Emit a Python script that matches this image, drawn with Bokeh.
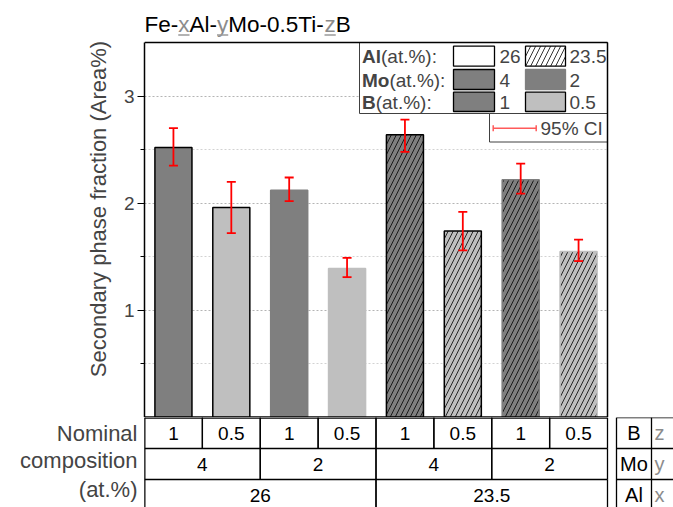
import numpy as np
from bokeh.plotting import figure
from bokeh.models import (Range1d, FixedTicker, ColumnDataSource, Whisker,
                          TeeHead, Label)
from bokeh.layouts import column
from bokeh.core.properties import value
from bokeh.embed import file_html
from bokeh.resources import INLINE

# ---------------- data ----------------
al_content = ["26", "26", "26", "26", "23.5", "23.5", "23.5", "23.5"]
mo_content = ["4", "4", "2", "2", "4", "4", "2", "2"]
b_content = ["1", "0.5", "1", "0.5", "1", "0.5", "1", "0.5"]
phase_fraction = [2.52, 1.96, 2.12, 1.39, 2.64, 1.74, 2.22, 1.55]
ci_lower = [2.35, 1.72, 2.02, 1.31, 2.48, 1.56, 2.09, 1.46]
ci_upper = [2.70, 2.20, 2.24, 1.49, 2.78, 1.92, 2.37, 1.66]
y_ticks = [1, 2, 3]
y_minor_ticks = [0.5, 1.5, 2.5]

title_parts = [("Fe-", False), ("x", True), ("Al-", False), ("y", True),
               ("Mo-0.5Ti-", False), ("z", True), ("B", False)]
y_label = "Secondary phase fraction (Area%)"
table_row_labels = ["Nominal", "composition", "(at.%)"]
side_labels = [("B", "z"), ("Mo", "y"), ("Al", "x")]
legend_rows = [("Al", "(at.%):", ["26", "23.5"]),
               ("Mo", "(at.%):", ["4", "2"]),
               ("B", "(at.%):", ["1", "0.5"])]
ci_label = "95% CI"

# ---------------- style / layout ----------------
W, H = 673, 507
FL, FR, FT, FB = 144, 607, 42, 417
N = len(phase_fraction)
Y_MAX = 3.5
ROW = 31.0
FONT = "Liberation Sans"
DARK, LIGHT, GRAYTXT = "#7f7f7f", "#bfbfbf", "#8c8c8c"

fill_map = {"1": DARK, "0.5": LIGHT}
hatch_map = {"26": " ", "23.5": "/"}

sx = (FR - FL) / N
sy = (FB - FT) / Y_MAX
X_END = (W - FL) / sx
Y_TOP = FB / sy


def ax(px):
    return (px - FL) / sx


def ay(py):
    return (FB - py) / sy


ARIAL = {'F': 611, 'e': 556, '-': 333, 'x': 500, 'A': 667, 'l': 222,
         'y': 500, 'M': 833, 'o': 556, '0': 556, '.': 278, '5': 556,
         'T': 611, 'i': 222, 'z': 500, 'B': 667}
ARIAL_B = {'A': 722, 'l': 278, 'M': 833, 'o': 611, 'B': 722}


def tw(s, size, table=ARIAL):
    return sum(table[c] for c in s) / 1000.0 * size


# ---------------- main figure ----------------
pA = figure(width=W, height=FB, x_range=Range1d(0, X_END), y_range=Range1d(0, Y_TOP),
            x_axis_location=None, tools="", toolbar_location=None,
            output_backend="svg", min_border_left=FL, min_border_right=0,
            min_border_top=0, min_border_bottom=0)
pA.outline_line_color = None
pA.xgrid.visible = False
tick = FixedTicker(ticks=y_ticks, minor_ticks=y_minor_ticks)
pA.yaxis.ticker = tick
pA.ygrid.ticker = tick
pA.ygrid.grid_line_color = "#b4b4b4"
pA.ygrid.grid_line_dash = "2 2"
pA.ygrid.minor_grid_line_color = "#d2d2d2"
pA.ygrid.minor_grid_line_dash = "2 2"
ya = pA.yaxis[0]
ya.bounds = (0, Y_MAX)
ya.axis_label = y_label
ya.axis_label_text_font = FONT
ya.axis_label_text_font_size = "22px"
ya.axis_label_text_font_style = "normal"
ya.axis_label_standoff = 10
ya.major_label_text_font = FONT
ya.major_label_text_font_size = "19px"
ya.major_label_standoff = 3
ya.axis_line_width = 1.5
ya.major_tick_out = 7
ya.major_tick_in = 0
ya.minor_tick_out = 4
ya.minor_tick_in = 0
ya.major_tick_line_width = 1.2

# white area right of the plotting box (hides grid there)
pA.quad(left=[N], right=[X_END], bottom=[0], top=[Y_TOP], fill_color="white",
        line_color=None)

xs = np.arange(N) + 0.5
fills = [fill_map[b] for b in b_content]
lines = ["black" if m == mo_content[0] else fill_map[b]
         for m, b in zip(mo_content, b_content)]
hatches = [hatch_map[a] for a in al_content]
src = ColumnDataSource(dict(x=xs, top=phase_fraction, lo=ci_lower, hi=ci_upper,
                            fill=fills, line=lines, hatch=hatches))
pA.vbar(x="x", top="top", bottom=0, width=0.64, source=src,
        fill_color="fill", line_color="line", line_width=1.5,
        hatch_pattern="hatch", hatch_color="black", hatch_scale=10,
        hatch_weight=0.8)
pA.add_layout(Whisker(source=src, base="x", lower="lo", upper="hi",
                      line_color="red", line_width=1.8, level="annotation",
                      upper_head=TeeHead(size=9, line_color="red", line_width=1.8),
                      lower_head=TeeHead(size=9, line_color="red", line_width=1.8)))

# title with underlined grey variables (drawn as text glyphs)
cx = FL
tt = dict(x=[], y=[], t=[], c=[])
ul = dict(x0=[], x1=[], y=[])
for txt, var in title_parts:
    w = tw(txt, 22.5)
    tt["x"].append(ax(cx)); tt["y"].append(ay(23.5)); tt["t"].append(txt)
    tt["c"].append(GRAYTXT if var else "black")
    if var:
        ul["x0"].append(ax(cx)); ul["x1"].append(ax(cx + w)); ul["y"].append(ay(34.5))
    cx += w
pA.text(x="x", y="y", text="t", text_color="c", source=ColumnDataSource(tt),
        text_font=value(FONT), text_font_size="22.5px", text_align="left",
        text_baseline="middle")
pA.segment(x0="x0", x1="x1", y0="y", y1="y", source=ColumnDataSource(ul),
           line_color="#9a9a9a", line_width=1.3)

# legend boxes
pA.quad(left=[ax(359), ax(489)], right=[N, N], top=[Y_MAX, ay(113)],
        bottom=[ay(113), ay(141.5)], fill_color="white", line_color="#404040",
        line_width=1)
sw_rows = [(45.7, 65.7), (69, 89), (91.7, 111)]
sw_cols = [(453, 494), (525, 565)]
sw = dict(l=[], r=[], t=[], b=[], fill=[], line=[], hatch=[])
for ri, (bold, rest, vals) in enumerate(legend_rows):
    t, b = sw_rows[ri]
    for ci, v in enumerate(vals):
        l, r = sw_cols[ci]
        sw["l"].append(ax(l)); sw["r"].append(ax(r))
        sw["t"].append(ay(t)); sw["b"].append(ay(b))
        if ri == 0:
            sw["fill"].append("white"); sw["line"].append("black")
            sw["hatch"].append(hatch_map[v])
        elif ri == 1:
            sw["fill"].append(DARK)
            sw["line"].append("black" if ci == 0 else DARK)
            sw["hatch"].append(" ")
        else:
            sw["fill"].append(fill_map[v]); sw["line"].append("black")
            sw["hatch"].append(" ")
        pA.add_layout(Label(x=ax(499 if ci == 0 else 569), y=ay((t + b) / 2 + 0.5),
                            text=v, text_font=FONT, text_font_size="19px",
                            text_baseline="middle", text_align="left"))
    yb = (t + b) / 2 + 0.5
    pA.add_layout(Label(x=ax(361.5), y=ay(yb), text=bold, text_font=FONT,
                        text_font_size="19px", text_font_style="bold",
                        text_baseline="middle", text_align="left"))
    pA.add_layout(Label(x=ax(361.5 + tw(bold, 19, ARIAL_B)), y=ay(yb), text=rest,
                        text_font=FONT, text_font_size="19px",
                        text_baseline="middle", text_align="left"))
pA.quad(left="l", right="r", top="t", bottom="b", source=ColumnDataSource(sw),
        fill_color="fill", line_color="line", line_width=1.3,
        hatch_pattern="hatch", hatch_color="black", hatch_scale=10,
        hatch_weight=0.8)
# CI legend entry
ci_y = ay(127.7)
pA.segment(x0=[ax(492.7), ax(492.7), ax(535.7)], x1=[ax(535.7), ax(492.7), ax(535.7)],
           y0=[ci_y, ay(124.7), ay(124.7)], y1=[ci_y, ay(130.7), ay(130.7)],
           line_color="#ff5a5a", line_width=1.5)
pA.add_layout(Label(x=ax(540), y=ci_y, text=ci_label, text_font=FONT,
                    text_font_size="19px", text_baseline="middle",
                    text_align="left"))
# plotting box edges (top, right, bottom)
pA.segment(x0=[0, N], y0=[Y_MAX, Y_MAX], x1=[N, N], y1=[Y_MAX, 0],
           line_color="black", line_width=1.5)
pA.segment(x0=[0], y0=[0], x1=[N], y1=[0], line_color="black", line_width=2.5)

# ---------------- table figure ----------------
TH = H - FB
row_label_pos = [-0.5, -1.4, -2.32]
pB = figure(width=W, height=TH, x_range=Range1d(0, X_END),
            y_range=Range1d(-TH / ROW, 0), x_axis_location=None,
            tools="", toolbar_location=None,
            output_backend="svg", min_border_left=FL, min_border_right=0,
            min_border_top=0, min_border_bottom=0)
pB.outline_line_color = None
pB.grid.visible = False
yb_ax = pB.yaxis[0]
yb_ax.ticker = FixedTicker(ticks=row_label_pos, minor_ticks=[])
yb_ax.major_label_overrides = {p: t for p, t in zip(row_label_pos, table_row_labels)}
yb_ax.axis_line_color = None
yb_ax.major_tick_line_color = None
yb_ax.minor_tick_line_color = None
yb_ax.major_tick_out = 0
yb_ax.major_tick_in = 0
yb_ax.major_label_standoff = 7
yb_ax.major_label_text_font = FONT
yb_ax.major_label_text_font_size = "22px"


def groups(keys):
    out = []
    start = 0
    for i in range(1, len(keys) + 1):
        if i == len(keys) or keys[i] != keys[start]:
            out.append((start, i))
            start = i
    return out


row_keys = [list(zip(al_content, mo_content, b_content)),
            list(zip(al_content, mo_content)),
            al_content]
row_texts = [b_content, mo_content, al_content]

seg = dict(x0=[], x1=[], y0=[], y1=[])


def add_seg(x0, y0, x1, y1):
    seg["x0"].append(x0); seg["y0"].append(y0)
    seg["x1"].append(x1); seg["y1"].append(y1)


for r in range(1, 4):
    add_seg(0, -r, N, -r)
cells = dict(x=[], y=[], t=[])
for r, (keys, texts) in enumerate(zip(row_keys, row_texts)):
    for s, e in groups(keys):
        add_seg(s, -r, s, -r - 1)
        add_seg(e, -r, e, -r - 1)
        cells["x"].append((s + e) / 2); cells["y"].append(-r - 0.5)
        cells["t"].append(texts[s])
pB.segment(x0="x0", y0="y0", x1="x1", y1="y1", source=ColumnDataSource(seg),
           line_color="black", line_width=1.3)
pB.segment(x0=[0], y0=[0], x1=[N], y1=[0], line_color="black", line_width=2.5)
pB.segment(x0=[0], y0=[0], x1=[0], y1=[-3], line_color="black", line_width=1.8)
pB.text(x="x", y="y", text="t", source=ColumnDataSource(cells),
        text_font=value(FONT), text_font_size="19px", text_align="center",
        text_baseline="middle")

# side legend table
sl, sm, sr = ax(616), ax(651), X_END + 1
side = dict(x0=[], x1=[], y0=[], y1=[])
for r in range(4):
    side["x0"].append(sl); side["x1"].append(sr)
    side["y0"].append(-r); side["y1"].append(-r)
for xv in (sl, sm):
    side["x0"].append(xv); side["x1"].append(xv)
    side["y0"].append(0); side["y1"].append(-3)
pB.segment(x0="x0", y0="y0", x1="x1", y1="y1", source=ColumnDataSource(side),
           line_color="black", line_width=1.3)
for r, (el, var) in enumerate(side_labels):
    pB.text(x=[(sl + sm) / 2], y=[-r - 0.5], text=[el], text_font=value(FONT),
            text_font_size="20px", text_align="center", text_baseline="middle")
    pB.text(x=[ax(659)], y=[-r - 0.5], text=[var], text_font=value(FONT),
            text_font_size="20px", text_align="center", text_baseline="middle",
            text_color=GRAYTXT)

layout = column(pA, pB)
open("out.html", "w").write(file_html(layout, INLINE))
